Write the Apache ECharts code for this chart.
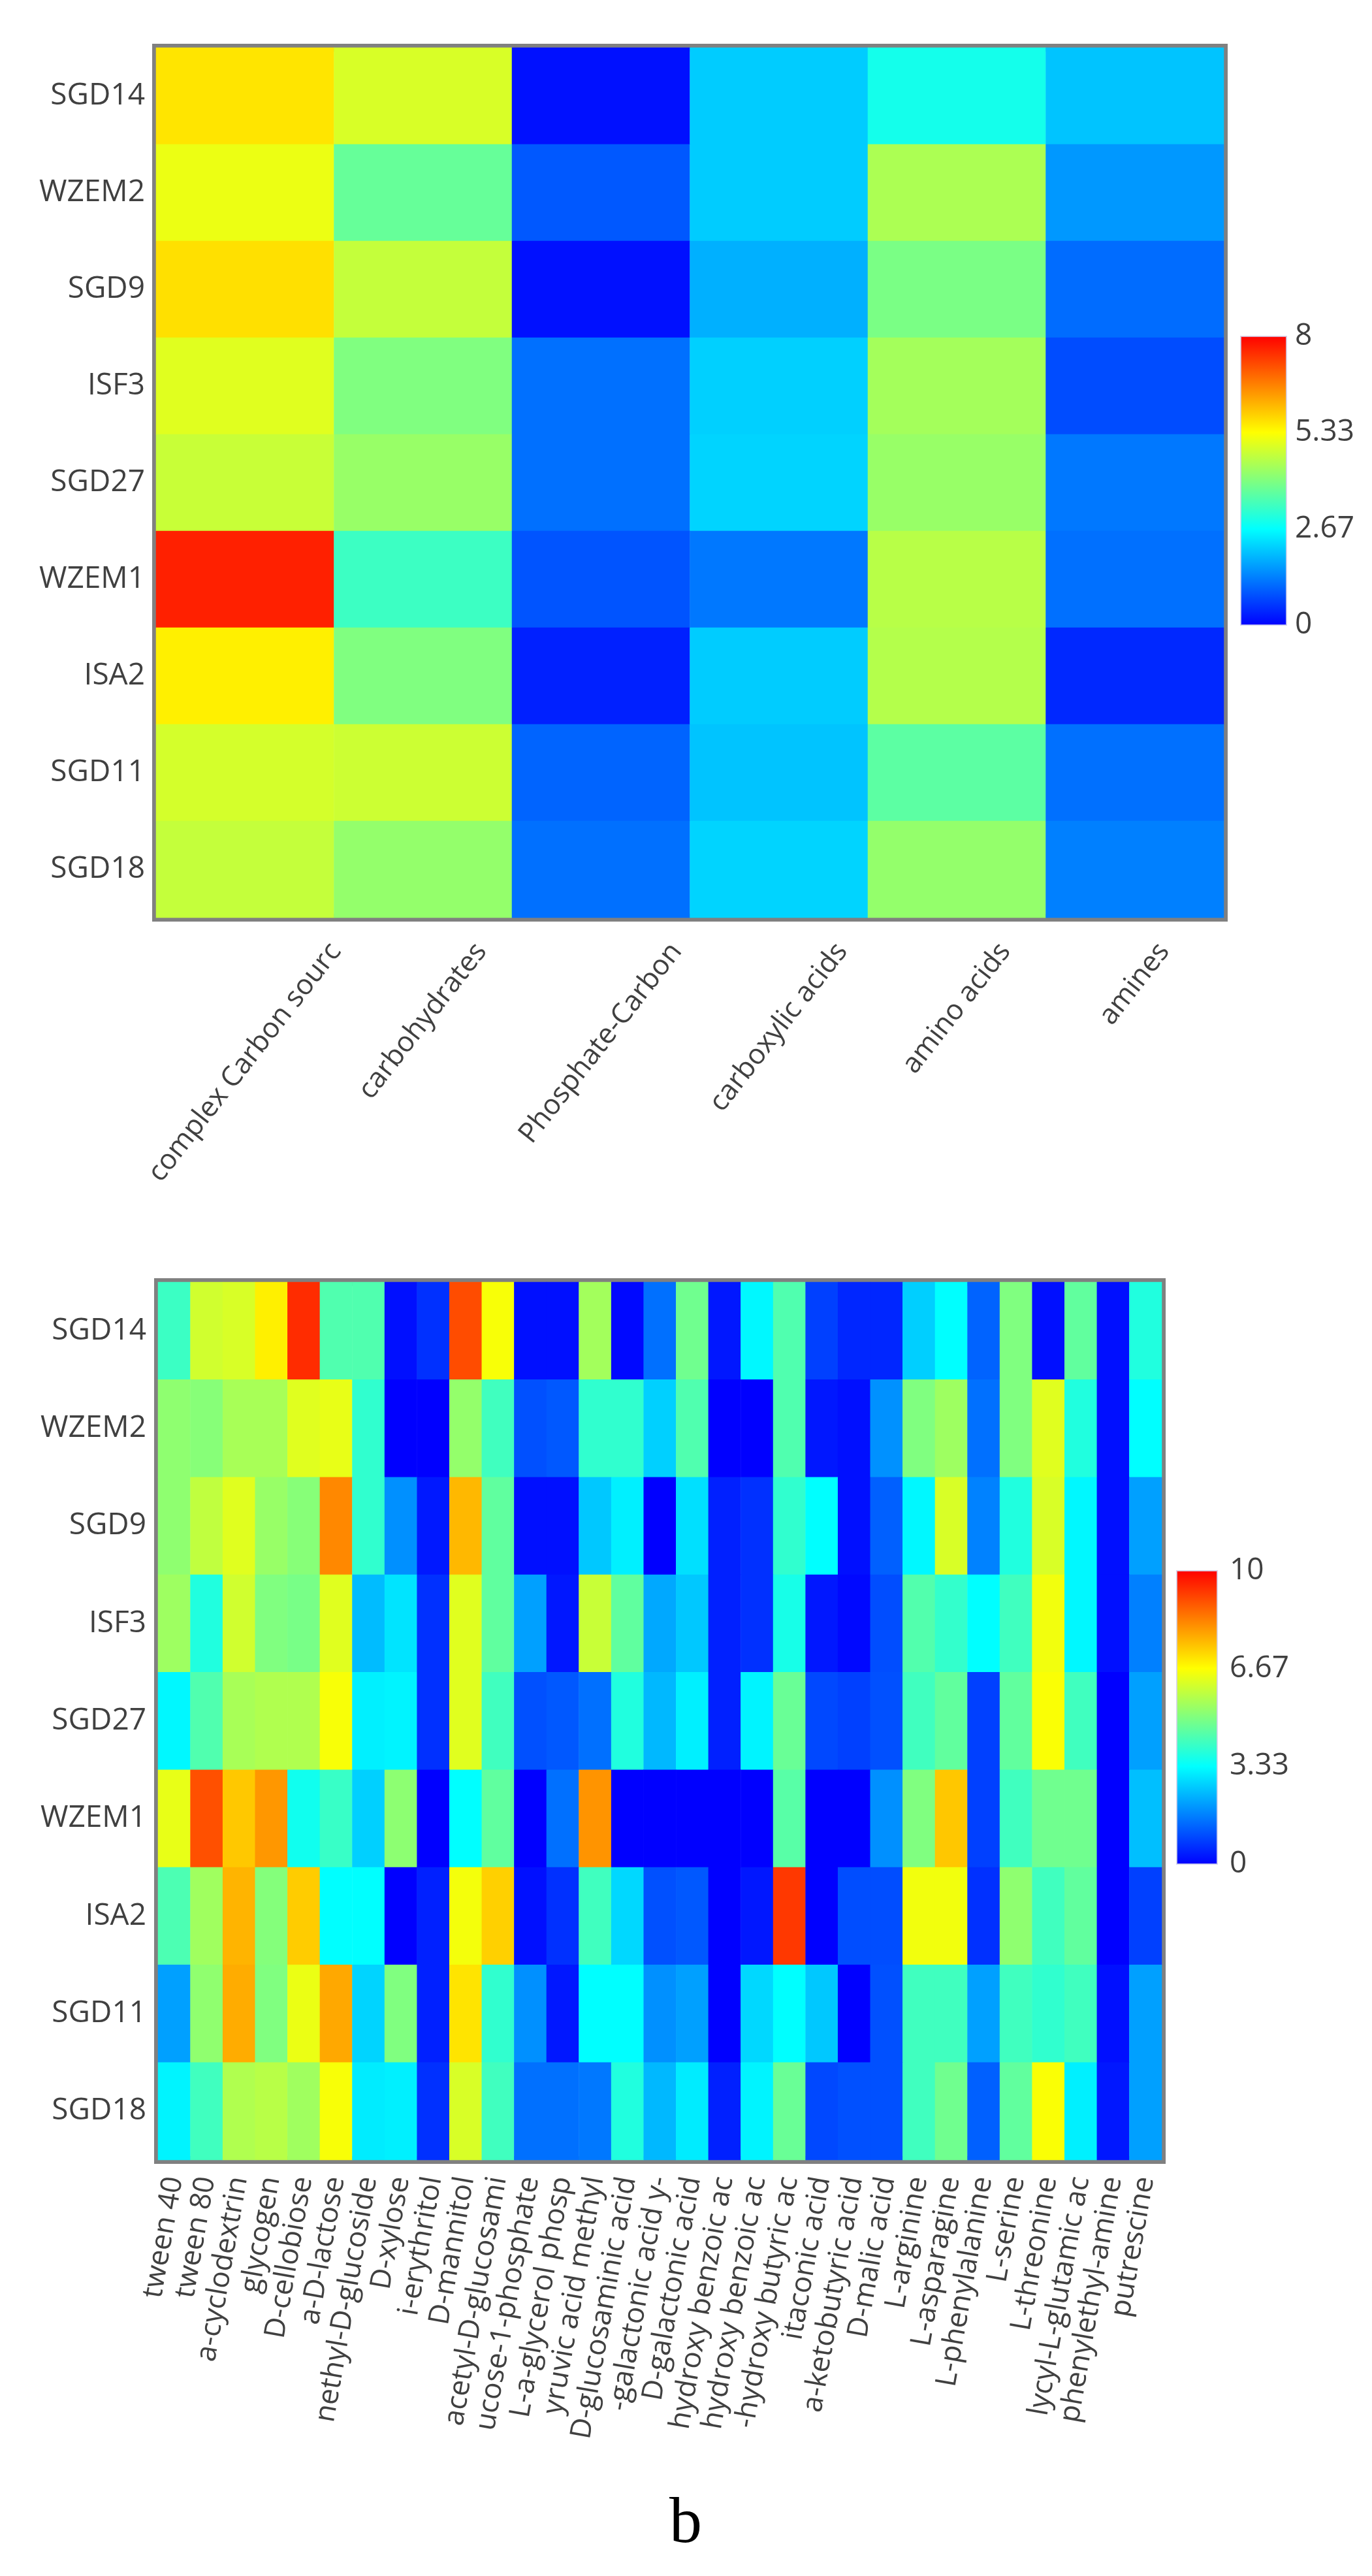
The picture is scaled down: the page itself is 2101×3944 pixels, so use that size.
<!DOCTYPE html>
<html>
<head>
<meta charset="utf-8">
<script src="https://cdn.jsdelivr.net/npm/echarts@6/dist/echarts.min.js"></script>
<style>
  html, body { margin: 0; padding: 0; background: #fff; }
  #chart { width: 2101px; height: 3944px; }
</style>
</head>
<body>
<div id="chart"></div>
<script>
// rows shared by both heatmaps, top to bottom
var strains = ['SGD14', 'WZEM2', 'SGD9', 'ISF3', 'SGD27', 'WZEM1', 'ISA2', 'SGD11', 'SGD18'];

/* ---------- top heatmap: substrate groups ---------- */
var groupNames = ['complex Carbon sourc', 'carbohydrates', 'Phosphate-Carbon', 'carboxylic acids', 'amino acids', 'amines'];
var groupValues = [
    [5.61, 4.93, 0.17, 2.13, 2.88, 2.05],
    [5.13, 3.73, 0.92, 2.13, 4.47, 1.59],
    [5.66, 4.72, 0.17, 1.84, 3.94, 1.13],
    [5.01, 4.00, 1.17, 2.18, 4.38, 0.79],
    [4.76, 4.26, 1.17, 2.22, 4.26, 1.25],
    [7.67, 3.29, 0.88, 1.25, 4.59, 1.17],
    [5.49, 4.00, 0.33, 2.13, 4.55, 0.42],
    [4.88, 4.80, 1.05, 2.05, 3.63, 1.17],
    [4.72, 4.21, 1.17, 2.22, 4.21, 1.34]
];
var groupTicks = ['0', '2.67', '5.33', '8'];

/* ---------- bottom heatmap: single substrates ---------- */
var substrateNames = ['tween 40', 'tween 80', 'a-cyclodextrin', 'glycogen', 'D-cellobiose', 'a-D-lactose',
    'nethyl-D-glucoside', 'D-xylose', 'i-erythritol', 'D-mannitol', 'acetyl-D-glucosami',
    'ucose-1-phosphate', 'L-a-glycerol phosp', 'yruvic acid methyl', 'D-glucosaminic acid',
    '-galactonic acid y-', 'D-galactonic acid', 'hydroxy benzoic ac', 'hydroxy benzoic ac',
    '-hydroxy butyric ac', 'itaconic acid', 'a-ketobutyric acid', 'D-malic acid', 'L-arginine',
    'L-asparagine', 'L-phenylalanine', 'L-serine', 'L-threonine', 'lycyl-L-glutamic ac',
    'phenylethyl-amine', 'putrescine'];
var substrateValues = [
    [4.1, 6.05, 6.16, 6.86, 9.42, 4.38, 4.38, 0.2, 0.63, 9.0, 6.57, 0.2, 0.2, 5.47, 0.1, 1.46, 4.8, 0.3, 3.24, 4.38, 0.84, 0.5, 0.5, 2.7, 3.33, 1.3, 5.0, 0.2, 4.6, 0.2, 3.75],
    [5.2, 5.1, 5.53, 5.53, 6.26, 6.36, 3.96, 0.0, 0.0, 5.27, 4.17, 1.05, 1.15, 3.96, 3.96, 2.72, 4.38, 0.0, 0.0, 4.38, 0.3, 0.2, 1.9, 5.0, 5.4, 1.46, 5.0, 6.26, 3.75, 0.2, 3.33],
    [5.2, 5.84, 6.26, 5.32, 5.1, 8.22, 3.96, 1.88, 0.31, 7.6, 4.59, 0.2, 0.2, 2.61, 3.14, 0.0, 2.93, 0.42, 0.63, 3.96, 3.33, 0.2, 1.26, 3.24, 6.16, 1.7, 3.75, 6.16, 3.24, 0.2, 2.09],
    [5.4, 3.75, 6.05, 5.0, 4.9, 6.26, 2.46, 2.98, 0.63, 6.26, 4.59, 2.09, 0.3, 5.95, 4.59, 2.2, 2.61, 0.42, 0.63, 3.64, 0.3, 0.1, 1.0, 4.4, 4.0, 3.33, 4.17, 6.5, 3.24, 0.2, 1.67],
    [3.24, 4.38, 5.53, 5.63, 5.63, 6.57, 3.14, 3.19, 0.63, 6.26, 4.17, 1.05, 1.15, 1.46, 3.75, 2.41, 3.14, 0.42, 3.19, 4.7, 0.94, 0.84, 1.05, 4.17, 4.6, 0.84, 4.6, 6.6, 4.17, 0.0, 2.09],
    [6.36, 8.95, 7.39, 8.02, 3.54, 4.07, 2.72, 5.17, 0.0, 3.33, 4.59, 0.0, 1.46, 8.07, 0.0, 0.0, 0.0, 0.0, 0.0, 4.48, 0.0, 0.0, 1.88, 5.0, 7.4, 0.84, 4.17, 4.8, 4.8, 0.0, 2.5],
    [4.33, 5.42, 7.65, 5.06, 7.33, 3.33, 3.33, 0.0, 0.42, 6.52, 7.28, 0.2, 0.63, 4.17, 2.82, 1.05, 1.15, 0.0, 0.3, 9.27, 0.0, 1.0, 1.0, 6.5, 6.5, 0.63, 5.2, 4.17, 4.6, 0.0, 0.84],
    [2.09, 5.22, 7.75, 5.0, 6.4, 7.8, 2.77, 5.0, 0.42, 7.02, 3.96, 1.88, 0.3, 3.33, 3.33, 1.88, 2.09, 0.0, 2.82, 3.33, 2.61, 0.0, 1.05, 4.17, 4.17, 2.09, 4.17, 3.96, 4.17, 0.2, 2.09],
    [3.19, 4.17, 5.63, 5.74, 5.42, 6.57, 3.08, 3.14, 0.63, 6.16, 4.17, 1.46, 1.46, 1.57, 3.75, 2.41, 3.08, 0.42, 3.19, 4.7, 0.94, 1.05, 1.05, 4.17, 4.8, 1.26, 4.6, 6.6, 3.14, 0.3, 2.09]
];
var substrateTicks = ['0', '3.33', '6.67', '10'];

var jet = ['#0000ff', '#00ffff', '#ffff00', '#ff0000'];
var textColor = '#404040';
var fontName = 'Open Sans';

function toCells(rows) {
    var out = [];
    rows.forEach(function (row, y) {
        row.forEach(function (v, x) {
            out.push([x, y, v]);
        });
    });
    return out;
}

function hiddenCategory(idx, data) {
    return {
        gridIndex: idx,
        type: 'category',
        data: data,
        axisLine: { show: false },
        axisTick: { show: false },
        splitLine: { show: false }
    };
}

// vertical gradient used for the colour bars, blue at the bottom
function jetGradient() {
    return new echarts.graphic.LinearGradient(0, 1, 0, 0, jet.map(function (c, i) {
        return { offset: i / (jet.length - 1), color: c };
    }));
}

var chart = echarts.init(document.getElementById('chart'));

var xTop = hiddenCategory(0, groupNames);
xTop.axisLabel = { show: false };

var xBottom = hiddenCategory(1, substrateNames);
xBottom.axisLabel = { interval: 0, rotate: 80, margin: 26, fontSize: 44, fontFamily: fontName, color: textColor };

var yTop = hiddenCategory(0, strains);
yTop.inverse = true;
yTop.axisLabel = { margin: 17, fontSize: 46, fontFamily: fontName, color: textColor };

var yBottom = hiddenCategory(1, strains);
yBottom.inverse = true;
yBottom.axisLabel = { margin: 18, fontSize: 46, fontFamily: fontName, color: textColor };

var yBarTop = hiddenCategory(2, groupTicks);
yBarTop.boundaryGap = false;
yBarTop.position = 'right';
yBarTop.axisLabel = { margin: 13, fontSize: 46, fontFamily: fontName, color: textColor };

var yBarBottom = hiddenCategory(3, substrateTicks);
yBarBottom.boundaryGap = false;
yBarBottom.position = 'right';
yBarBottom.axisLabel = { margin: 19, fontSize: 46, fontFamily: fontName, color: textColor };

var barBoxes = [
    { left: 1900, top: 515, width: 70, height: 442 },
    { left: 1802, top: 2405, width: 62, height: 449 }
];

var option = {
    backgroundColor: '#ffffff',
    animation: false,
    grid: [
        { left: 239, top: 73, width: 1635, height: 1332, show: true, borderColor: '#808080', borderWidth: 12, backgroundColor: 'transparent' },
        { left: 242, top: 1963, width: 1537, height: 1344, show: true, borderColor: '#808080', borderWidth: 12, backgroundColor: 'transparent' },
        barBoxes[0],
        barBoxes[1]
    ],
    xAxis: [
        xTop,
        xBottom,
        { gridIndex: 2, type: 'value', show: false },
        { gridIndex: 3, type: 'value', show: false }
    ],
    yAxis: [yTop, yBottom, yBarTop, yBarBottom],
    visualMap: [
        { type: 'continuous', show: false, seriesIndex: 0, min: 0, max: 8, inRange: { color: jet } },
        { type: 'continuous', show: false, seriesIndex: 1, min: 0, max: 10, inRange: { color: jet } }
    ],
    series: [
        {
            type: 'heatmap', xAxisIndex: 0, yAxisIndex: 0,
            data: toCells(groupValues),
            itemStyle: { borderWidth: 0 },
            emphasis: { disabled: true }
        },
        {
            type: 'heatmap', xAxisIndex: 1, yAxisIndex: 1,
            data: toCells(substrateValues),
            itemStyle: { borderWidth: 0 },
            emphasis: { disabled: true }
        }
    ]
};

chart.setOption(option);

/* top x labels: rotated, tops lined up, each box centred on its column */
var labelFont = '43px "' + fontName + '"';
var ctx = document.createElement('canvas').getContext('2d');
ctx.font = labelFont;
var theta = 52 * Math.PI / 180;
var lineH = 43;
var labelTop = 1436;

var graphics = groupNames.map(function (name, i) {
    var cx = chart.convertToPixel({ xAxisIndex: 0 }, i);
    var w = ctx.measureText(name).width;
    return {
        type: 'text',
        x: cx + (w * Math.cos(theta) - lineH * Math.sin(theta)) / 2,
        y: labelTop,
        rotation: theta,
        silent: true,
        style: { text: name, font: labelFont, fill: textColor, align: 'right', verticalAlign: 'top' }
    };
});

// colour bars sit exactly in the small grids that carry their tick labels
barBoxes.forEach(function (b) {
    graphics.push({
        type: 'rect',
        silent: true,
        shape: { x: b.left, y: b.top, width: b.width, height: b.height },
        style: { fill: jetGradient(), stroke: 'rgba(210,210,235,0.8)', lineWidth: 2 }
    });
});

graphics.push({
    type: 'text',
    x: 1050,
    y: 3866,
    silent: true,
    style: { text: 'b', font: '100px "Liberation Serif"', fill: '#000', align: 'center', verticalAlign: 'middle' }
});

chart.setOption({ graphic: graphics });
</script>
</body>
</html>
